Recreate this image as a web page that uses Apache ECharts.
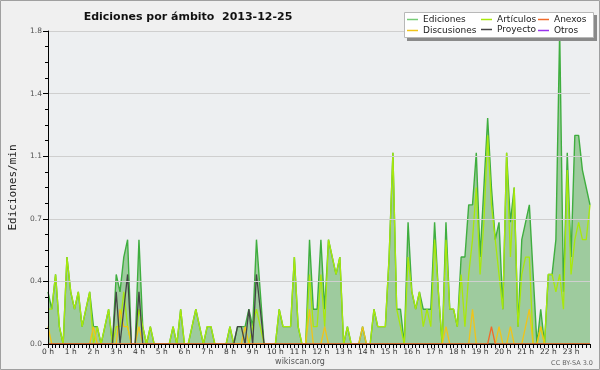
<!DOCTYPE html>
<html><head><meta charset="utf-8">
<script src="https://cdn.jsdelivr.net/npm/echarts@6/dist/echarts.min.js"></script>
<style>html,body{margin:0;padding:0;background:#f0f0f0}#c{width:600px;height:370px}</style>
</head><body><div id="c"></div>
<script>
const hourLabels = ['0 h','1 h','2 h','3 h','4 h','5 h','6 h','7 h','8 h','9 h','10 h','11 h','12 h','13 h','14 h','15 h','16 h','17 h','18 h','19 h','20 h','21 h','22 h','23 h'];
const yTicks = [0, 0.36, 0.72, 1.08, 1.44, 1.8];

const ediciones = [
 .3,.2,.4,.1,0,.5, .3,.2,.3,.1,.2,.3, .1,.1,0,.1,.2,0, .4,.3,.5,.6,0,0,
 .6,.1,0,.1,0,0, 0,0,0,.1,0,.2, 0,0,.1,.2,.1,0, .1,.1,0,0,0,0,
 .1,0,.1,.1,.1,.2, .1,.6,.3,0,0,0, 0,.2,.1,.1,.1,.5, .1,0,0,.6,.2,.2,
 .6,.2,.6,.5,.4,.5, 0,.1,0,0,0,.1, 0,0,.2,.1,.1,.1, .5,1.1,.2,.2,0,.7,
 .3,.2,.3,.2,.2,.2, .7,.3,0,.7,.2,.2, .1,.5,.5,.8,.8,1.1, .5,.9,1.3,.9,.6,.7,
 .2,1.1,.7,.9,.1,.6, .7,.8,.4,0,.2,0, .4,.4,.6,1.8,.3,1.1, .5,1.2,1.2,1.0,.9,.8
];
const articulos = [
 .2,.2,.4,.1,0,.5, .3,.2,.3,.1,.2,.3, 0,.1,0,.1,.2,0, .1,.1,.3,.1,0,0,
 .2,.1,0,.1,0,0, 0,0,0,.1,0,.2, 0,0,.1,.2,.1,0, .1,.1,0,0,0,0,
 .1,0,0,0,0,0, .1,.2,.1,0,0,0, 0,.2,.1,.1,.1,.5, .1,0,0,.4,.1,.1,
 .4,.1,.6,.5,.4,.5, 0,.1,0,0,0,0, 0,0,.2,.1,.1,.1, .5,1.1,.2,.1,0,.5,
 .3,.2,.3,.1,.2,.1, .6,.3,0,.6,.2,.2, .1,.4,.1,.4,.6,.9, .4,.7,1.2,.8,.6,.4,
 .2,1.1,.5,.9,.1,.4, .5,.5,0,0,.1,0, .4,.4,.3,.4,.2,1.0, .4,.6,.7,.6,.6,.8
];
const discusiones = [
 .1,0,0,0,0,0, 0,0,0,0,0,0, .1,0,0,0,0,0, 0,.2,.1,.1,0,0,
 .1,0,0,0,0,0, 0,0,0,0,0,0, 0,0,0,0,0,0, 0,0,0,0,0,0,
 0,0,0,0,.1,0, 0,0,0,0,0,0, 0,0,0,0,0,0, 0,0,0,.2,0,0,
 0,.1,0,0,0,0, 0,0,0,0,0,.1, 0,0,0,0,0,0, 0,0,0,0,0,0,
 0,0,0,0,0,0, 0,0,0,.1,0,0, 0,0,0,0,.2,0, 0,0,0,0,0,.1,
 0,0,.1,0,0,0, .1,.2,0,0,.1,0, 0,0,0,0,0,0, 0,0,0,0,0,0
];
const proyecto = [
 0,0,0,0,0,0, 0,0,0,0,0,0, 0,0,0,0,0,0, .3,0,.2,.4,0,0,
 .3,0,0,0,0,0, 0,0,0,0,0,0, 0,0,0,0,0,0, 0,0,0,0,0,0,
 0,0,.1,.1,0,.2, 0,.4,.2,0,0,0, 0,0,0,0,0,0, 0,0,0,0,0,0,
 0,0,0,0,0,0, 0,0,0,0,0,0, 0,0,0,0,0,0, 0,0,0,0,0,0,
 0,0,0,0,0,0, 0,0,0,0,0,0, 0,0,0,0,0,0, 0,0,0,0,0,0,
 0,0,0,0,0,0, 0,0,0,0,0,0, 0,0,0,0,0,0, 0,0,0,0,0,0
];
const anexos = [
 0,0,0,0,0,0, 0,0,0,0,0,0, 0,0,0,0,0,0, 0,0,0,0,0,0,
 0,0,0,0,0,0, 0,0,0,0,0,0, 0,0,0,0,0,0, 0,0,0,0,0,0,
 0,0,0,0,0,0, 0,0,0,0,0,0, 0,0,0,0,0,0, 0,0,0,0,0,0,
 0,0,0,0,0,0, 0,0,0,0,0,0, 0,0,0,0,0,0, 0,0,0,0,0,0,
 0,0,0,0,0,0, 0,0,0,0,0,0, 0,0,0,0,0,0, 0,0,0,.1,0,0,
 0,0,0,0,0,0, 0,0,0,0,0,0, 0,0,0,0,0,0, 0,0,0,0,0,0
];
const otros = [];

const categories = [];
hourLabels.forEach(h => { for (let m = 0; m < 6; m++) categories.push(h + '|' + m); });

const FONT = 'DejaVu Sans';
const chart = echarts.init(document.getElementById('c'), null, {renderer: 'canvas'});

function lineSeries(name, data, color, z) {
  return {name, type: 'line', data, showSymbol: false, symbol: 'none', z,
    lineStyle: {color, width: 1.3}, itemStyle: {color}, animation: false};
}
const legendCommon = {padding: 0, icon: 'rect', itemWidth: 11, itemHeight: 1.5, itemGap: 4,
  textStyle: {fontFamily: FONT, fontSize: 9, color: '#222'}, selectedMode: false, z: 20};

chart.setOption({
  animation: false,
  backgroundColor: '#f0f0f0',
  grid: {left: 46, right: 10, top: 31, bottom: 26, show: true, backgroundColor: '#edeff1', borderWidth: 0},
  xAxis: {
    type: 'category', data: categories, boundaryGap: false, z: 10,
    axisLine: {lineStyle: {color: '#000', width: 1}},
    axisTick: {interval: 0, length: 4, lineStyle: {color: '#000'}},
    axisLabel: {interval: (i) => i % 6 === 0, formatter: (v) => v.split('|')[0],
      fontFamily: FONT, fontSize: 7.5, color: '#333', margin: 4},
    splitLine: {show: false}
  },
  yAxis: {
    type: 'value', min: 0, max: yTicks[yTicks.length - 1], interval: yTicks[1], z: 10,
    name: 'Ediciones/min', nameLocation: 'middle', nameGap: 29,
    nameTextStyle: {fontFamily: 'DejaVu Sans Mono', fontSize: 11, color: '#222'},
    axisLine: {show: true, lineStyle: {color: '#000'}},
    axisTick: {show: true, length: 5, lineStyle: {color: '#000'}},
    minorTick: {show: true, splitNumber: 4, length: 3, lineStyle: {color: '#000'}},
    axisLabel: {formatter: (v) => v.toFixed(1), fontFamily: FONT, fontSize: 7.5, color: '#555', margin: 6},
    splitLine: {show: true, lineStyle: {color: '#cfcfcf', width: 1}}
  },
  legend: [
    Object.assign({data: [{name: 'Ediciones', itemStyle: {color: '#77cc77'}}], left: 407, top: 15}, legendCommon),
    Object.assign({data: ['Artículos'], left: 481, top: 15}, legendCommon),
    Object.assign({data: ['Anexos'], left: 538, top: 15}, legendCommon),
    Object.assign({data: ['Discusiones'], left: 407, top: 26}, legendCommon),
    Object.assign({data: ['Proyecto'], left: 481, top: 25}, legendCommon),
    Object.assign({data: ['Otros'], left: 538, top: 26}, legendCommon)
  ],
  graphic: [
    {type: 'rect', z: 0, silent: true, shape: {x: 0.5, y: 0.5, width: 599, height: 369}, style: {fill: 'none', stroke: '#a0a0a0', lineWidth: 1}},
    {type: 'rect', z: 15, silent: true, shape: {x: 407, y: 15, width: 190, height: 26}, style: {fill: '#8a8a8a'}},
    {type: 'rect', z: 16, silent: true, shape: {x: 404.5, y: 12.5, width: 189, height: 25}, style: {fill: '#ffffff', stroke: '#b8b8b8', lineWidth: 1}},
    {type: 'text', z: 16, silent: true, x: 188, y: 17, style: {text: 'Ediciones por ámbito  2013-12-25', fontFamily: FONT, fontWeight: 'bold', fontSize: 11, fill: '#111', textAlign: 'center', textVerticalAlign: 'middle'}},
    {type: 'text', z: 16, silent: true, x: 300, y: 362, style: {text: 'wikiscan.org', fontFamily: FONT, fontSize: 8, fill: '#555', textAlign: 'center', textVerticalAlign: 'middle'}},
    {type: 'text', z: 16, silent: true, x: 593, y: 363, style: {text: 'CC BY-SA 3.0', fontFamily: FONT, fontSize: 6.5, fill: '#666', textAlign: 'right', textVerticalAlign: 'middle'}}
  ],
  series: [
    {name: 'Ediciones', type: 'line', data: ediciones, showSymbol: false, symbol: 'none', z: 2,
      lineStyle: {color: '#3fae3f', width: 1.4}, itemStyle: {color: '#3fae3f'},
      areaStyle: {color: '#9ecb9e', opacity: 1}},
    lineSeries('Artículos', articulos, '#a8e80c', 3),
    lineSeries('Discusiones', discusiones, '#f0c419', 4),
    lineSeries('Proyecto', proyecto, '#444444', 5),
    lineSeries('Anexos', anexos, '#f06a2a', 6),
    lineSeries('Otros', otros, '#9933ee', 7)
  ]
});
</script></body></html>
